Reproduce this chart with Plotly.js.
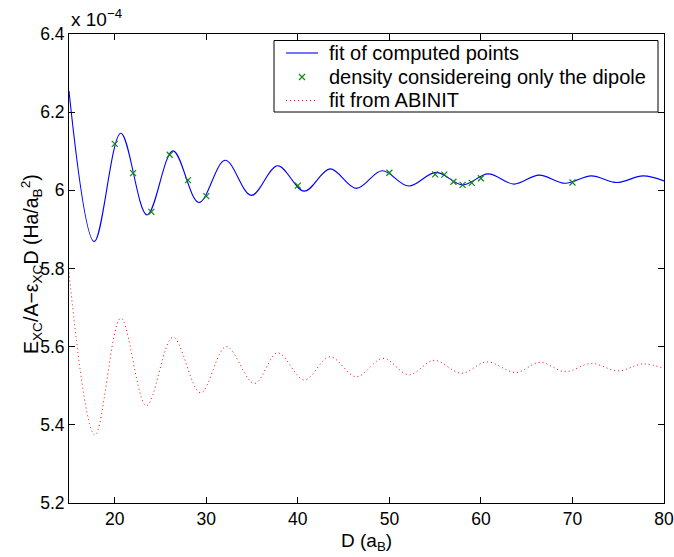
<!DOCTYPE html>
<html>
<head>
<meta charset="utf-8">
<script src="https://cdn.plot.ly/plotly-3.0.1.min.js"></script>
<style>html,body{margin:0;padding:0;background:#fff;}#chart{width:674px;height:557px;}</style>
</head>
<body>
<div id="chart"></div>
<script>
// Blue fit curve, read at its turning points (y in units of 1e-4)
const fitD = [15, 17.76, 20.66, 23.53, 26.36, 29.19, 32.06, 34.92, 37.79, 40.69, 43.52, 46.39, 49.2, 52.1, 55.1, 58.0, 60.8, 63.6, 66.35, 69.2, 72.05, 74.85, 77.7, 80];
const fitE = [6.254, 5.869, 6.146, 5.937, 6.101, 5.969, 6.077, 5.987, 6.063, 5.998, 6.055, 6.005, 6.050, 6.011, 6.046, 6.014, 6.042, 6.016, 6.039, 6.018, 6.037, 6.020, 6.037, 6.024];

// Green computed points
const ptD = [20, 22, 24, 26, 28, 30, 40, 50, 55, 56, 57, 58, 59, 60, 70];
const ptE = [6.119, 6.044, 5.945, 6.091, 6.026, 5.985, 6.012, 6.045, 6.041, 6.040, 6.022, 6.014, 6.019, 6.031, 6.020];

// Red ABINIT fit, read at its turning points
const abD = [15, 17.83, 20.66, 23.46, 26.36, 29.37, 32.17, 35.25, 37.79, 40.69, 43.49, 46.39, 49.30, 52.13, 54.88, 57.86, 60.65, 63.81, 66.46, 69.18, 72.08, 74.99, 77.71, 80];
const abE = [5.79, 5.374, 5.673, 5.449, 5.624, 5.482, 5.600, 5.506, 5.584, 5.515, 5.574, 5.523, 5.570, 5.528, 5.565, 5.532, 5.561, 5.534, 5.560, 5.536, 5.557, 5.538, 5.556, 5.544];

const names = ["fit of computed points", "density considereing only the dipole", "fit from ABINIT"];
const xTicks = [20, 30, 40, 50, 60, 70, 80];
const yTicks = [5.2, 5.4, 5.6, 5.8, 6, 6.2, 6.4];

const FONT = "Liberation Sans, Arial, Helvetica, sans-serif";
const BLUE = "#0000ff", GREEN = "#118811", RED = "#ff0000";

const traces = [
  {x: fitD, y: fitE, name: names[0], type: "scatter", mode: "lines",
   line: {color: BLUE, width: 1.1, shape: "spline", smoothing: 1}},
  {x: ptD, y: ptE, name: names[1], type: "scatter", mode: "markers",
   marker: {symbol: "x-thin", size: 6, color: GREEN, line: {color: GREEN, width: 1.2}}},
  {x: abD, y: abE, name: names[2], type: "scatter", mode: "lines",
   line: {color: RED, width: 1, dash: "1px,3px", shape: "spline", smoothing: 1}}
];

// plot-area geometry (pixels) used to place the hand-drawn legend box
const M = {l: 69, r: 10, t: 34, b: 54};
const W = 674, H = 557;
const pw = W - M.l - M.r, ph = H - M.t - M.b;
const px = v => (v - M.l) / pw;
const py = v => 1 - (v - M.t) / ph;

const legBox = {x0: 274, x1: 658, y0: 40.5, y1: 112};
const rowY = [53, 77, 100.5];
const sampleX = [286, 318];
const textX = 327;

const shapes = [
  {type: "rect", xref: "paper", yref: "paper", layer: "above",
   x0: px(legBox.x0), x1: px(legBox.x1), y0: py(legBox.y0), y1: py(legBox.y1),
   line: {color: "#000", width: 1}, fillcolor: "#fff"},
  {type: "line", xref: "paper", yref: "paper", layer: "above",
   x0: px(sampleX[0]), x1: px(sampleX[1]), y0: py(rowY[0]), y1: py(rowY[0]),
   line: {color: BLUE, width: 1.1}},
  {type: "path", xref: "paper", yref: "paper", layer: "above",
   path: (() => {
     const cx = (sampleX[0] + sampleX[1]) / 2, cy = rowY[1], h = 3;
     return "M " + px(cx - h) + " " + py(cy - h) + " L " + px(cx + h) + " " + py(cy + h) +
            " M " + px(cx - h) + " " + py(cy + h) + " L " + px(cx + h) + " " + py(cy - h);
   })(),
   line: {color: GREEN, width: 1.2}},
  {type: "line", xref: "paper", yref: "paper", layer: "above",
   x0: px(sampleX[0]), x1: px(sampleX[1]), y0: py(rowY[2]), y1: py(rowY[2]),
   line: {color: RED, width: 1, dash: "1px,3px"}}
];

const legendTexts = names.map((n, i) => ({
  text: n, xref: "paper", yref: "paper", x: px(textX), y: py(rowY[i]),
  xanchor: "left", yanchor: "middle", showarrow: false,
  font: {family: FONT, size: 20, color: "#000"}
}));

const axisCommon = {
  showline: true, linecolor: "#000", linewidth: 1, mirror: "ticks",
  ticks: "inside", ticklen: 6, tickcolor: "#000", tickwidth: 1,
  showgrid: false, zeroline: false, ticklabeloverflow: "allow",
  tickfont: {family: FONT, size: 17.5, color: "#000"}
};

const layout = {
  width: W, height: H, autosize: false,
  margin: {l: M.l, r: M.r, t: M.t, b: M.b, pad: 0},
  paper_bgcolor: "#fff", plot_bgcolor: "#fff",
  font: {family: FONT, color: "#000"},
  showlegend: false,
  xaxis: Object.assign({}, axisCommon, {range: [15, 80], tickvals: xTicks}),
  yaxis: Object.assign({}, axisCommon, {range: [5.2, 6.4], tickvals: yTicks}),
  shapes: shapes,
  annotations: [
    {text: "x 10<sup>−4</sup>", xref: "paper", yref: "paper", x: 0, y: 1,
     xanchor: "left", yanchor: "bottom", showarrow: false, yshift: 2,
     font: {family: FONT, size: 19, color: "#000"}},
    {text: "E<sub>XC</sub>/A−ε<sub>XC</sub>D (Ha/a<sub>B</sub><sup>2</sup>)", xref: "paper", yref: "paper",
     x: px(31), y: py(264), xanchor: "center", yanchor: "middle", textangle: -90, showarrow: false,
     font: {family: FONT, size: 19.5, color: "#000"}},
    {text: "D (a<sub>B</sub>)", xref: "paper", yref: "paper", x: 0.5, y: py(542),
     xanchor: "center", yanchor: "middle", showarrow: false,
     font: {family: FONT, size: 19, color: "#000"}}
  ].concat(legendTexts)
};

Plotly.newPlot("chart", traces, layout, {displayModeBar: false, staticPlot: true});
</script>
</body>
</html>
